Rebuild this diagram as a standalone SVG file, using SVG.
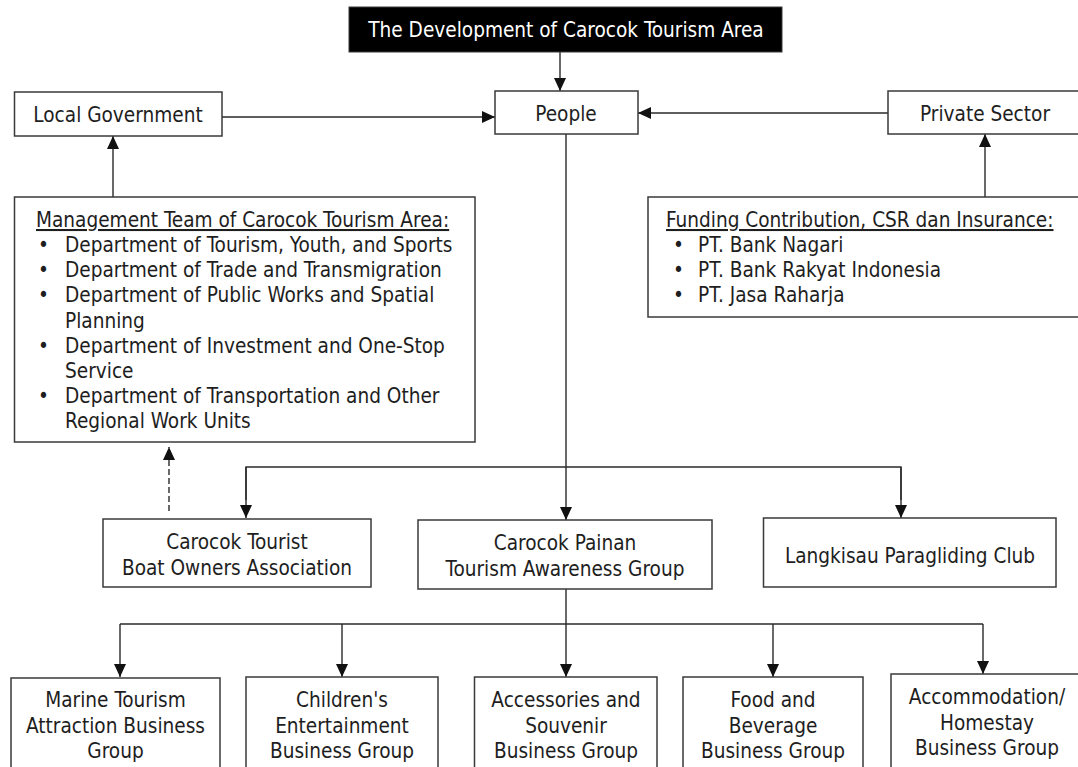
<svg xmlns="http://www.w3.org/2000/svg" width="1078" height="767" viewBox="0 0 1078 767">
  <defs>
    <style>
      text { font-family: "DejaVu Sans Condensed", "DejaVu Sans", sans-serif; font-stretch: condensed; font-size: 20.6px; fill: #1e1e1e; }
      .c { text-anchor: middle; }
      .box { fill: #ffffff; stroke: #3a3a3a; stroke-width: 1.5; }
      .title { fill: #000000; stroke: #3a3a3a; stroke-width: 1; }
      .wt { fill: #ffffff; }
      .ln { fill: none; stroke: #2a2a2a; stroke-width: 1.4; }
      .dash { stroke-dasharray: 6 3; }
      .u { text-decoration: underline; }
    </style>
    <marker id="ah" markerUnits="userSpaceOnUse" markerWidth="14" markerHeight="13" refX="13" refY="6" orient="auto">
      <path d="M0,0 L13,6 L0,12 z" fill="#111111"/>
    </marker>
  </defs>
  <rect width="1078" height="767" fill="#ffffff"/>

  <g id="connectors">
    <line class="ln" x1="560" y1="52" x2="560" y2="91" marker-end="url(#ah)"/>
    <line class="ln" x1="222" y1="117" x2="495" y2="117" marker-end="url(#ah)"/>
    <line class="ln" x1="888" y1="113" x2="638" y2="113" marker-end="url(#ah)"/>
    <line class="ln" x1="113" y1="197" x2="113" y2="136" marker-end="url(#ah)"/>
    <line class="ln" x1="985" y1="197" x2="985" y2="134" marker-end="url(#ah)"/>
    <line class="ln" x1="566" y1="134" x2="566" y2="520" marker-end="url(#ah)"/>
    <polyline class="ln" points="246,500 246,467 901,467 901,500"/>
    <line class="ln" x1="246" y1="467" x2="246" y2="518" marker-end="url(#ah)"/>
    <line class="ln" x1="901" y1="467" x2="901" y2="518" marker-end="url(#ah)"/>
    <line class="ln dash" x1="169" y1="511" x2="169" y2="447" marker-end="url(#ah)"/>
    <line class="ln" x1="566" y1="589" x2="566" y2="677" marker-end="url(#ah)"/>
    <polyline class="ln" points="120,624 983,624"/>
    <line class="ln" x1="120" y1="624" x2="120" y2="677" marker-end="url(#ah)"/>
    <line class="ln" x1="342" y1="624" x2="342" y2="677" marker-end="url(#ah)"/>
    <line class="ln" x1="773" y1="624" x2="773" y2="677" marker-end="url(#ah)"/>
    <line class="ln" x1="983" y1="624" x2="983" y2="674" marker-end="url(#ah)"/>
  </g>

  <g id="title">
    <rect class="title" x="349" y="7" width="433" height="45"/>
    <text class="c wt" x="566" y="37">The Development of Carocok Tourism Area</text>
  </g>

  <g id="local-government">
    <rect class="box" x="14.5" y="92" width="207.5" height="44"/>
    <text class="c" x="118" y="122">Local Government</text>
  </g>

  <g id="people">
    <rect class="box" x="495" y="91" width="143" height="43"/>
    <text class="c" x="566" y="121">People</text>
  </g>

  <g id="private-sector">
    <rect class="box" x="888" y="91" width="200" height="43"/>
    <text class="c" x="985" y="121">Private Sector</text>
  </g>

  <g id="management-team">
    <rect class="box" x="14.5" y="197" width="460.5" height="245"/>
    <text x="36" y="227" class="u">Management Team of Carocok Tourism Area:</text>
    <text x="38" y="252">•</text>
    <text x="65" y="252">Department of Tourism, Youth, and Sports</text>
    <text x="38" y="277">•</text>
    <text x="65" y="277">Department of Trade and Transmigration</text>
    <text x="38" y="302">•</text>
    <text x="65" y="302">Department of Public Works and Spatial</text>
    <text x="65" y="328">Planning</text>
    <text x="38" y="353">•</text>
    <text x="65" y="353">Department of Investment and One-Stop</text>
    <text x="65" y="378">Service</text>
    <text x="38" y="403">•</text>
    <text x="65" y="403">Department of Transportation and Other</text>
    <text x="65" y="428">Regional Work Units</text>
  </g>

  <g id="funding">
    <rect class="box" x="648" y="197" width="440" height="120"/>
    <text x="666" y="227" class="u">Funding Contribution, CSR dan Insurance:</text>
    <text x="673" y="252">•</text>
    <text x="698" y="252">PT. Bank Nagari</text>
    <text x="673" y="277">•</text>
    <text x="698" y="277">PT. Bank Rakyat Indonesia</text>
    <text x="673" y="302">•</text>
    <text x="698" y="302">PT. Jasa Raharja</text>
  </g>

  <g id="boat-owners">
    <rect class="box" x="103" y="519" width="268" height="68"/>
    <text class="c" x="237" y="549">Carocok Tourist</text>
    <text class="c" x="237" y="575">Boat Owners Association</text>
  </g>

  <g id="painan-group">
    <rect class="box" x="418" y="520" width="294" height="69"/>
    <text class="c" x="565" y="550">Carocok Painan</text>
    <text class="c" x="565" y="576">Tourism Awareness Group</text>
  </g>

  <g id="paragliding">
    <rect class="box" x="763.5" y="518" width="292.5" height="69"/>
    <text class="c" x="910" y="563">Langkisau Paragliding Club</text>
  </g>

  <g id="marine">
    <rect class="box" x="11" y="678" width="209" height="110"/>
    <text class="c" x="115.5" y="707">Marine Tourism</text>
    <text class="c" x="115.5" y="733">Attraction Business</text>
    <text class="c" x="115.5" y="758">Group</text>
  </g>

  <g id="children">
    <rect class="box" x="246" y="677" width="192" height="110"/>
    <text class="c" x="342" y="707">Children's</text>
    <text class="c" x="342" y="733">Entertainment</text>
    <text class="c" x="342" y="758">Business Group</text>
  </g>

  <g id="accessories">
    <rect class="box" x="474.5" y="677" width="182.5" height="110"/>
    <text class="c" x="566" y="707">Accessories and</text>
    <text class="c" x="566" y="733">Souvenir</text>
    <text class="c" x="566" y="758">Business Group</text>
  </g>

  <g id="food">
    <rect class="box" x="683" y="677" width="180" height="110"/>
    <text class="c" x="773" y="707">Food and</text>
    <text class="c" x="773" y="733">Beverage</text>
    <text class="c" x="773" y="758">Business Group</text>
  </g>

  <g id="accommodation">
    <rect class="box" x="891" y="674" width="200" height="110"/>
    <text class="c" x="987" y="704">Accommodation/</text>
    <text class="c" x="987" y="730">Homestay</text>
    <text class="c" x="987" y="755">Business Group</text>
  </g>
</svg>
